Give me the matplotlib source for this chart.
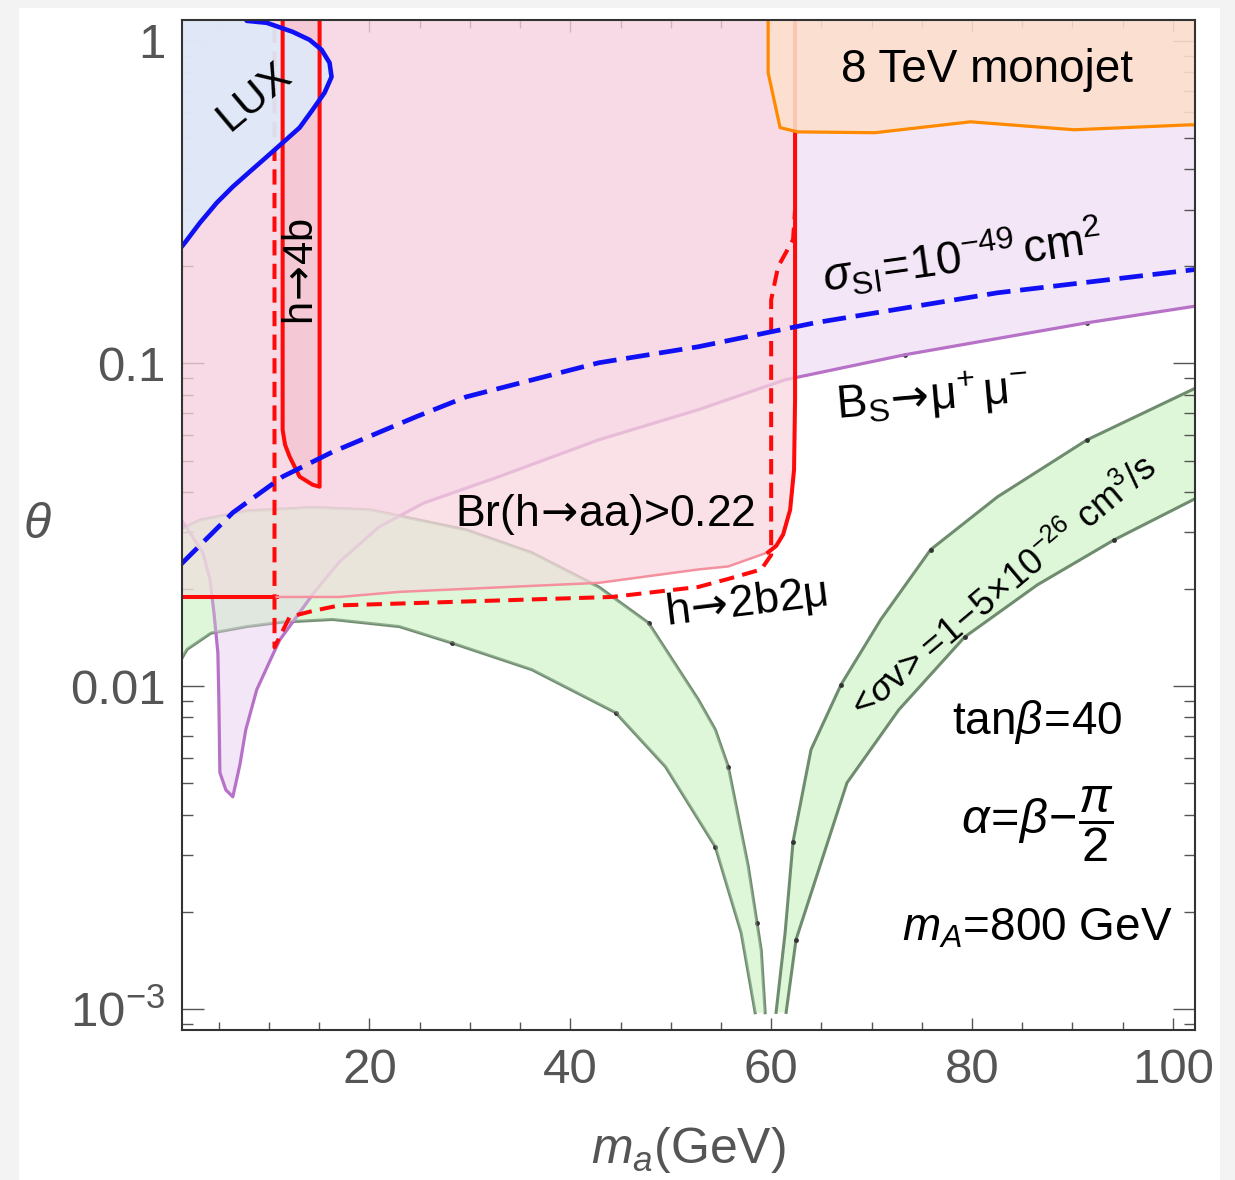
import numpy as np
import matplotlib.pyplot as plt
from matplotlib.patches import Rectangle
from matplotlib.ticker import MultipleLocator, LogLocator, NullFormatter

plt.rcParams['font.family'] = ['Liberation Sans', 'DejaVu Sans']
plt.rcParams['mathtext.fontset'] = 'custom'
plt.rcParams['mathtext.rm'] = 'Liberation Sans'
plt.rcParams['mathtext.it'] = 'Liberation Sans:italic'
plt.rcParams['mathtext.bf'] = 'Liberation Sans:bold'
plt.rcParams['mathtext.sf'] = 'DejaVu Sans'
plt.rcParams['mathtext.fallback'] = 'stixsans'
plt.rcParams['lines.scale_dashes'] = False

# ---- data (m_a in GeV, theta) ----
# LUX exclusion boundary
x_lux = [1.2, 1.64, 3.13, 4.81, 6.40, 8.09, 9.78, 11.36, 13.05, 14.34, 15.53, 16.23,
         16.03, 15.24, 14.04, 12.36, 9.78, 7.79, 7.0]
th_lux = [0.228, 0.237, 0.273, 0.315, 0.353, 0.393, 0.437, 0.483, 0.538, 0.611, 0.690,
          0.773, 0.855, 0.938, 1.007, 1.066, 1.137, 1.153, 1.3]

# Bs -> mu mu boundary (excluded above)
x_bs = [1.2, 2.13, 3.42, 4.12, 4.52, 4.91, 5.01, 5.11, 5.71, 6.40, 7.10, 7.69, 8.78,
        10.37, 11.07, 14.54, 17.02, 20.99, 25.46, 32.90, 42.83, 52.75, 61.39, 73.30,
        91.46, 102.5]
th_bs = [0.0330, 0.0299, 0.0259, 0.0214, 0.0169, 0.0127, 0.0091, 0.0054, 0.00477,
         0.00454, 0.0057, 0.00733, 0.00975, 0.0125, 0.0139, 0.0196, 0.0243, 0.0312,
         0.0370, 0.0446, 0.0580, 0.0719, 0.0890, 0.1064, 0.1337, 0.151]

# sigma_SI = 1e-49 cm^2 contour
x_si = [1.2, 6.40, 11.36, 16.33, 24.66, 29.63, 42.83, 52.75, 64.37, 82.53, 102.5]
th_si = [0.0238, 0.0345, 0.0446, 0.0532, 0.0684, 0.0788, 0.1005, 0.1127, 0.1337, 0.1656, 0.196]

# 8 TeV monojet boundary
x_mono = [59.70, 59.70, 60.89, 62.68, 70.32, 79.85, 90.17, 101.69, 103.0]
th_mono = [1.3, 0.796, 0.538, 0.522, 0.519, 0.561, 0.530, 0.549, 0.548]

# h -> 4b (solid red, closed at the bottom)
x_h4b = [11.36, 11.36, 11.6, 12.06, 13.05, 14.34, 15.04, 15.04]
th_h4b = [1.3, 0.0623, 0.056, 0.0514, 0.0446, 0.0421, 0.0415, 1.3]

# h -> 2b2mu (dashed red)
x_2b2mu = [10.55, 10.55, 12.06, 14.34, 17.02, 24.66, 44.12, 52.75, 55.73, 59.01,
           60.0, 60.0, 60.69, 62.18, 62.38]
th_2b2mu = [1.3, 0.0132, 0.0164, 0.0171, 0.0178, 0.0181, 0.0189, 0.0203, 0.0215,
            0.0230, 0.0255, 0.1575, 0.1995, 0.242, 0.30]

# Br(h -> aa) > 0.22 boundary: solid left part, faint middle, solid right part
x_br_left = [1.2, 10.77]
th_br_left = [0.0189, 0.0189]
x_br_mid = [10.77, 17.02, 22.98, 42.83, 52.75, 55.73, 59.70]
th_br_mid = [0.0189, 0.0189, 0.0196, 0.0209, 0.0230, 0.0235, 0.0260]
x_br_right = [59.70, 60.50, 61.19, 61.89, 62.28, 62.38, 62.38]
th_br_right = [0.0260, 0.0272, 0.0295, 0.0352, 0.0469, 0.0772, 1.3]

# relic density band <sigma v> = 1-5e-26 cm^3/s, left and right of the resonance
x_rl_up = [1.2, 3.13, 7.79, 14.34, 20.0, 22.98, 29.63, 36.18, 42.83, 47.79, 52.75,
           54.44, 55.73, 57.72, 59.01, 59.40]
th_rl_up = [0.0306, 0.0327, 0.0349, 0.0358, 0.0352, 0.0337, 0.0305, 0.0259, 0.0203,
            0.0157, 0.00908, 0.00733, 0.00563, 0.00276, 0.00152, 0.000973]
x_rl_lo = [1.2, 1.84, 4.22, 7.79, 11.36, 16.33, 22.98, 28.24, 36.18, 44.52, 49.48,
           54.44, 57.02, 58.41]
th_rl_lo = [0.0120, 0.0130, 0.0146, 0.0153, 0.0158, 0.0161, 0.0153, 0.0136, 0.01125,
            0.00828, 0.00563, 0.00318, 0.00172, 0.000973]
x_rr_in = [60.49, 61.39, 62.18, 63.97, 66.95, 70.92, 75.88, 82.53, 91.46, 102.5]
th_rr_in = [0.000975, 0.00172, 0.0033, 0.00636, 0.0101, 0.0161, 0.0265, 0.0386, 0.0580, 0.0846]
x_rr_out = [61.49, 62.48, 67.55, 72.71, 79.26, 86.5, 94.14, 102.5]
th_rr_out = [0.000975, 0.00164, 0.00502, 0.00845, 0.0142, 0.0206, 0.0284, 0.0385]

# mesh points visible on the contours
x_mesh = [47.79, 28.24, 44.52, 55.73, 54.44, 58.61, 62.18, 62.48, 66.95, 75.88,
          91.46, 79.26, 94.14, 73.30, 91.46]
th_mesh = [0.0157, 0.0136, 0.00828, 0.00563, 0.00318, 0.00185, 0.0033, 0.00164,
           0.0101, 0.0265, 0.058, 0.0142, 0.0284, 0.1064, 0.1337]

# axis ticks
xticks = [20, 40, 60, 80, 100]
yticks = [1e-3, 1e-2, 1e-1, 1]
ylabels = [r'$10^{-3}$', '0.01', '0.1', '1']

TOP = 1.3
red = '#ff0a0a'

fig = plt.figure(figsize=(12.35, 11.8), dpi=100, facecolor='#f3f3f3')
fig.patches.append(Rectangle((19 / 1235, 0), 1201 / 1235, 1172 / 1180,
                             transform=fig.transFigure, facecolor='white',
                             edgecolor='none', zorder=-5))
ax = fig.add_axes([182 / 1235, 150 / 1180, 1013 / 1235, 1010 / 1180])
ax.set_yscale('log')
ax.set_xlim(1.34, 102.2)
ax.set_ylim(8.6e-4, 1.16)

# relic bands
green_fill = '#ddf7d8'
green_edge = '#6f8c6f'
band_l = (x_rl_up + x_rl_lo[::-1], th_rl_up + th_rl_lo[::-1])
band_r = (x_rr_in + x_rr_out[::-1], th_rr_in + th_rr_out[::-1])
for bx, by in [band_l, band_r]:
    ax.fill(bx, by, color=green_fill, lw=0, zorder=1)
for xs, ys in [(x_rl_up, th_rl_up), (x_rl_lo, th_rl_lo), (x_rr_in, th_rr_in), (x_rr_out, th_rr_out)]:
    ax.plot(xs, ys, color=green_edge, lw=2.2, zorder=1.1, solid_joinstyle='round')
ax.plot(x_mesh, th_mesh, ls='none', marker='o', ms=3.5, mfc='#333333', mec='none', zorder=1.2)

# Bs -> mu mu excluded region
ax.fill_between(x_bs, th_bs, TOP, color='#e4c8ee', alpha=0.45, lw=0, zorder=1.5)
ax.plot(x_bs, th_bs, color='#b772c8', lw=2.3, zorder=1.55, solid_joinstyle='round')

# Br(h->aa) region
x_br = [1.2] + x_br_left + x_br_mid + x_br_right
th_br = [TOP] + th_br_left + th_br_mid + th_br_right
ax.fill(x_br, th_br, color='#f9d6df', alpha=0.75, lw=0, zorder=1.6)
ax.fill(*band_l, color=green_fill, alpha=0.3, lw=0, zorder=1.62)
ax.fill(x_h4b, th_h4b, color='#f4a8b8', alpha=0.35, lw=0, zorder=1.65)

ax.plot(x_2b2mu, th_2b2mu, color=red, lw=2.9, ls=(0, (11, 6)), zorder=1.75)

# LUX
ax.fill(x_lux + [1.2], th_lux + [TOP], color='#dfe8f8', alpha=0.95, lw=0, zorder=1.8)

ax.plot(x_h4b, th_h4b, color=red, lw=2.9, zorder=1.9)
ax.plot(x_br_left, th_br_left, color=red, lw=2.9, zorder=1.9)
ax.plot(x_br_mid, th_br_mid, color='#f5909e', lw=1.8, zorder=1.9)
ax.plot(x_br_right, th_br_right, color=red, lw=2.9, zorder=1.9)

# monojet
ax.fill(x_mono + [103.0], th_mono + [TOP], color='#fde0cc', alpha=0.88, lw=0, zorder=2)
ax.plot(x_mono, th_mono, color='#ff8a00', lw=2.3, zorder=3)

ax.plot(x_lux, th_lux, color='#1010f5', lw=3.3, zorder=3, solid_joinstyle='round')
ax.plot(x_si, th_si, color='#1010f5', lw=3.4, ls=(0, (17, 7)), zorder=3)

# ticks and frame
ax.set_xticks(xticks)
ax.xaxis.set_minor_locator(MultipleLocator(5))
ax.set_yticks(yticks, labels=ylabels)
ax.yaxis.set_minor_locator(LogLocator(base=10, subs=np.arange(2, 10)))
ax.yaxis.set_minor_formatter(NullFormatter())
ax.tick_params(which='both', direction='in', top=True, right=True, colors='#555555',
               labelcolor='#555555', labelsize=35.5, width=1.0)
ax.tick_params(axis='x', which='major', length=8.6, pad=13)
ax.tick_params(axis='x', which='minor', length=5.5)
ax.tick_params(axis='y', which='major', length=16, pad=12)
ax.tick_params(axis='y', which='minor', length=8)
for sp in ax.spines.values():
    sp.set_color('#333333')
    sp.set_linewidth(1.5)
    sp.set_zorder(5)

ax.set_xlabel(r'$m_a$(GeV)', fontsize=36, color='#555555')
ax.xaxis.set_label_coords(0.5, -0.119)
ax.xaxis.label.set_va('center')
ax.set_ylabel(r'$\theta$', fontsize=36, color='#555555', rotation=0)
ax.yaxis.set_label_coords(-0.143, 0.5)
ax.yaxis.label.set_va('center')
ax.yaxis.label.set_ha('center')

# annotations
arrow = r'$\!\mathsf{\rightarrow}\!$'
tk = dict(color='black', ha='center', va='center', zorder=10)
ax.text(81.5, 0.813, '8 TeV monojet', fontsize=33, **tk)
ax.text(8.6, 0.671, 'LUX', fontsize=31, rotation=40, **tk)
ax.text(13.25, 0.192, 'h' + arrow + '4b', fontsize=30, rotation=90, **tk)
ax.text(79.0, 0.213, r'$\sigma_{\rm SI}\!=\!10^{-49}\,{\rm cm}^2$', fontsize=33, rotation=8, **tk)
ax.text(76.1, 0.0788, r'$\mathrm{B_S}\!\mathsf{\rightarrow}\!\mathrm{\mu^{+}\,\mu^{-}}$', fontsize=33,
        rotation=5, **tk)
ax.text(43.5, 0.0340, 'Br(h' + arrow + 'aa)>0.22', fontsize=32, **tk)
ax.text(57.5, 0.0181, 'h' + arrow + '2b2μ', fontsize=32, rotation=7, **tk)
ax.text(83.0, 0.0199, r'$<\!\sigma\mathrm{v}\!>\!=\!1\!-\!5\!\times\!10^{-26}\ \mathrm{cm^3/s}$',
        fontsize=26, rotation=40, **tk)
ax.text(86.5, 0.00776, r'$\mathrm{tan}\beta\!=\!40$', fontsize=33, **tk)
ax.text(86.5, 0.00372, r'$\alpha\!=\!\beta\!-\!\dfrac{\pi}{2}$', fontsize=35, **tk)
ax.text(86.5, 0.00178, r'$m_A$=800 GeV', fontsize=33, **tk)

fig.savefig('out.png', dpi=100, facecolor=fig.get_facecolor())
